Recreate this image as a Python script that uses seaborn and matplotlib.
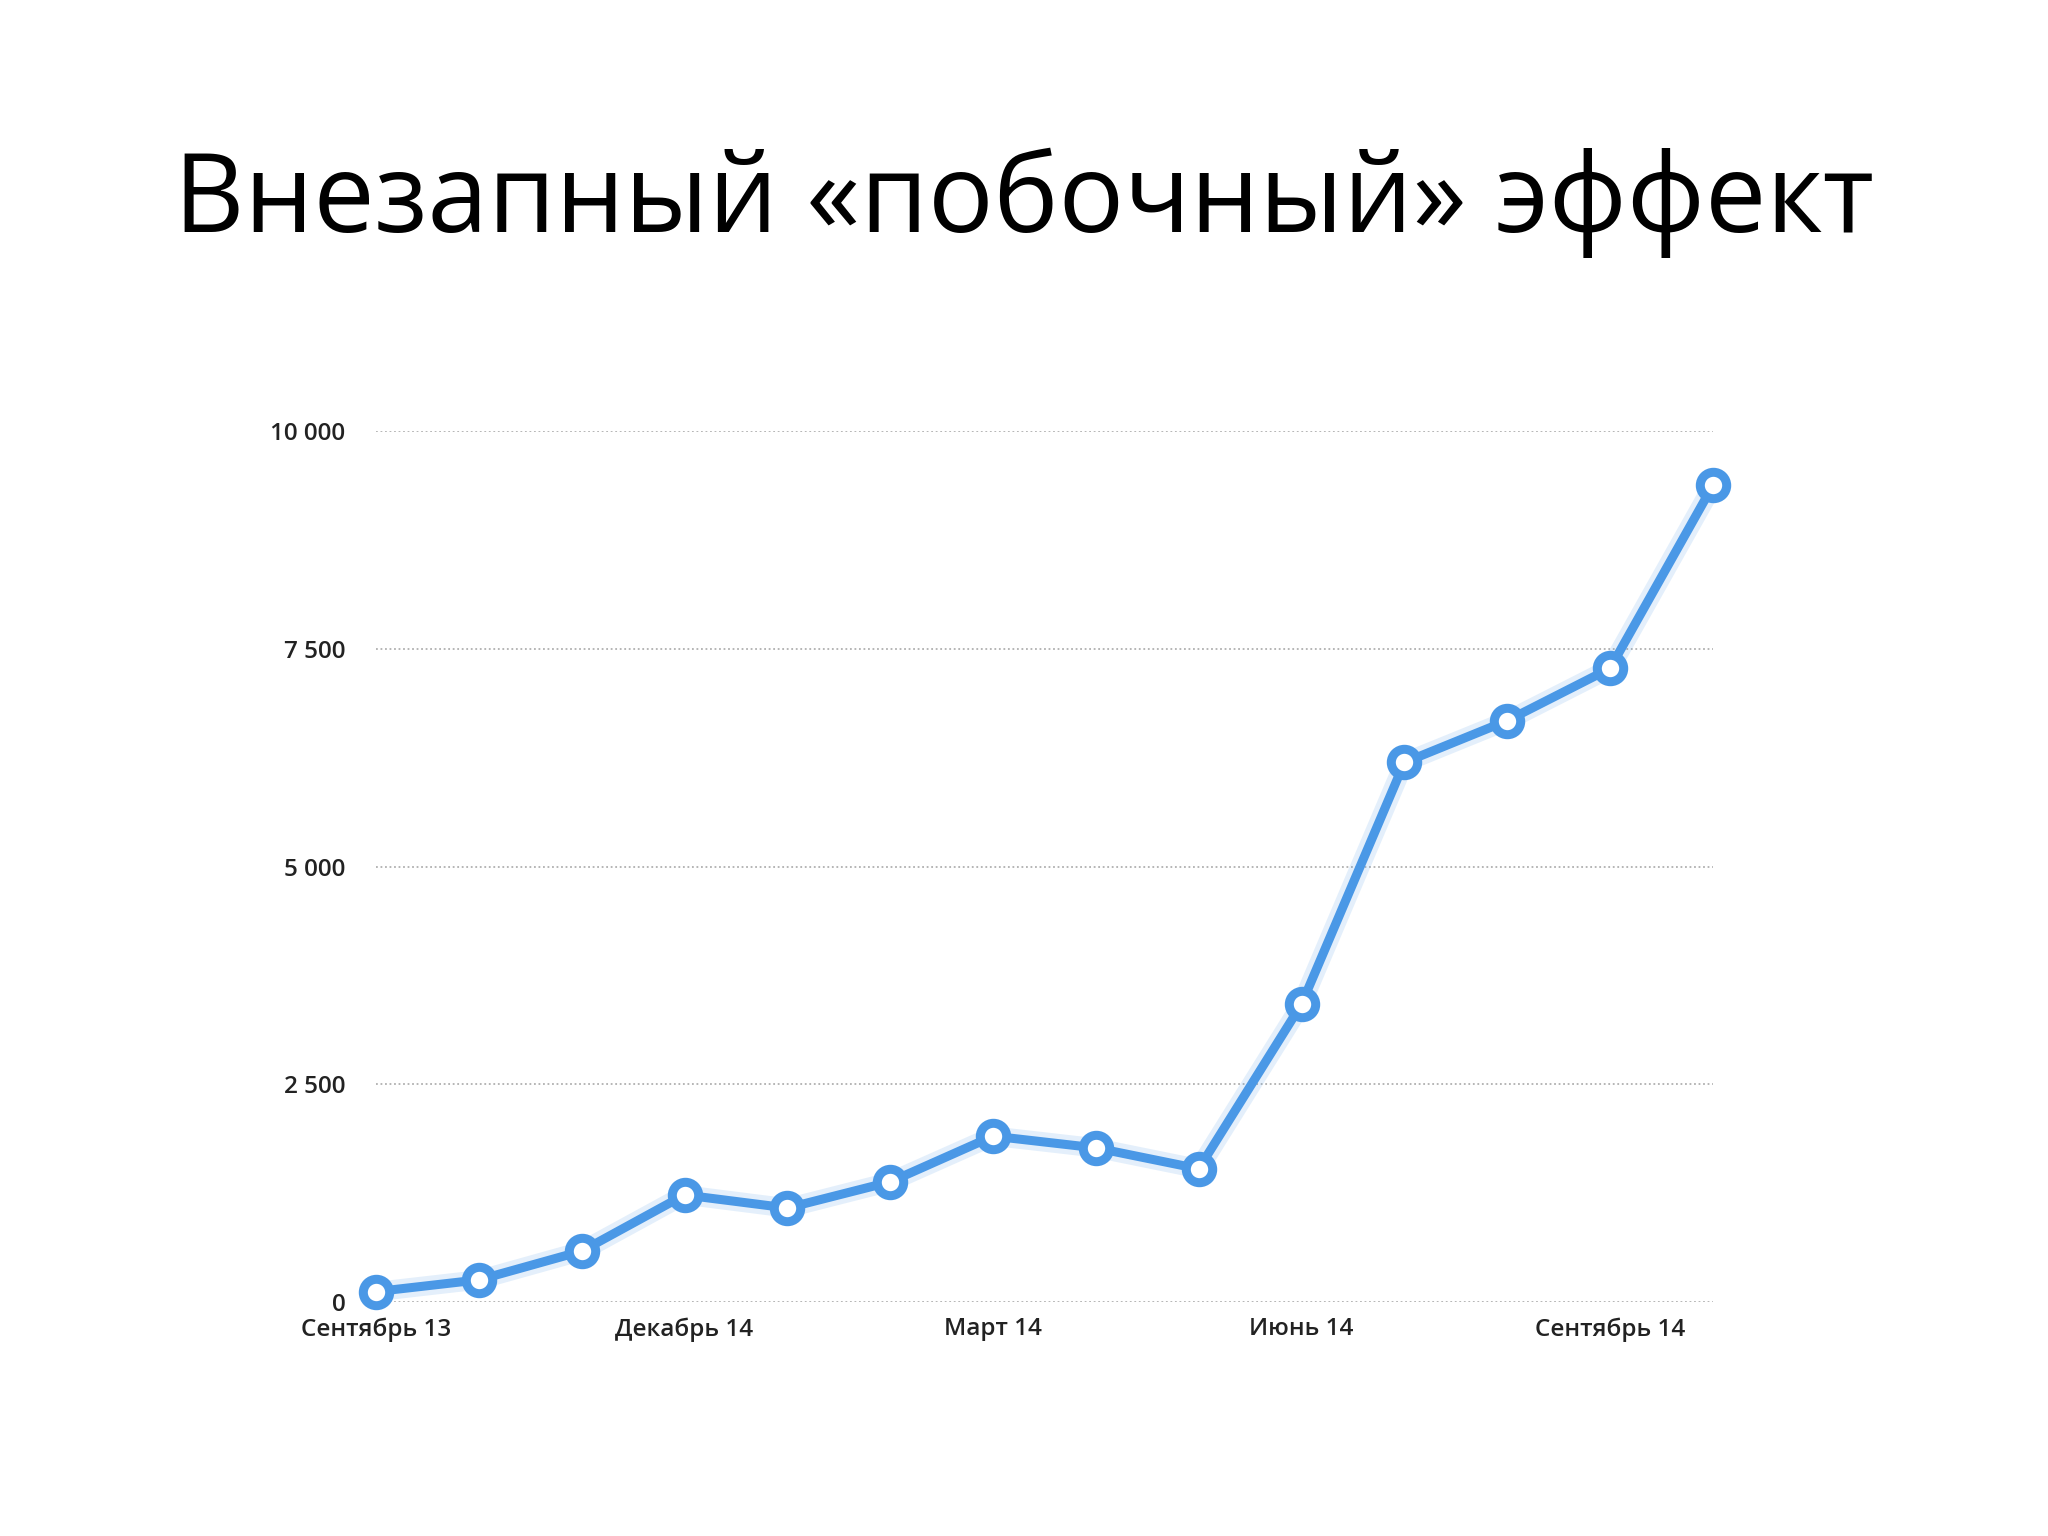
import numpy as np
import pandas as pd
import seaborn as sns
import matplotlib.pyplot as plt

# === DATOS ===
meses = ["Сентябрь 13", "Октябрь 13", "Ноябрь 13", "Декабрь 14", "Январь 14",
         "Февраль 14", "Март 14", "Апрель 14", "Май 14", "Июнь 14",
         "Июль 14", "Август 14", "Сентябрь 14", "Октябрь 14"]
valores = [120, 255, 585, 1230, 1080, 1380, 1905, 1770, 1530, 3420,
           6195, 6675, 7275, 9375]
ticks_y = [0, 2500, 5000, 7500, 10000]
etiquetas_y = ["0", "2 500", "5 000", "7 500", "10 000"]
ticks_x = [0, 3, 6, 9, 12]
titulo = "Внезапный «побочный» эффект"

df = pd.DataFrame({"pos": np.arange(len(valores)), "valor": valores})

# === FIGURA ===
sns.set_style("white")
plt.rcParams["font.family"] = ["DejaVu Sans"]

fig = plt.figure(figsize=(20.48, 15.36), dpi=100)
ax = fig.add_axes([0.1836, 0.1523, 0.6528, 0.5671])

# halo suave detras de la linea
ax.plot(df["pos"], df["valor"], color="#4a98e6", linewidth=14, alpha=0.15,
        solid_capstyle="round", clip_on=False, zorder=4)

sns.lineplot(data=df, x="pos", y="valor", ax=ax, color="#4a98e6",
             linewidth=6.5, marker="o", markersize=19,
             markerfacecolor="white", markeredgecolor="#4a98e6",
             markeredgewidth=6.5, clip_on=False, zorder=5)

fuente_ticks = dict(fontsize=17.5, color="#222222", fontweight="semibold",
                    family=["Open Sans", "DejaVu Sans"])

ax.set_xlim(0, len(valores) - 1)
ax.set_ylim(0, 10000)
ax.set_yticks(ticks_y)
ax.set_yticklabels(etiquetas_y, **fuente_ticks)
ax.set_xticks(ticks_x)
ax.set_xticklabels([meses[i] for i in ticks_x], **fuente_ticks)
ax.tick_params(axis="both", length=0)
ax.tick_params(axis="y", pad=22)
ax.tick_params(axis="x", pad=11)

for y in ticks_y:
    ax.axhline(y, color="#b0b0b0", linestyle=(0, (1, 1.5)), linewidth=1.3, zorder=1)

for s in ax.spines.values():
    s.set_visible(False)
ax.set_xlabel("")
ax.set_ylabel("")

fig.text(0.5, 0.868, titulo, ha="center", va="center", fontsize=78.5,
         family=["Open Sans", "DejaVu Sans"], color="black")

fig.savefig("out.png", dpi=100, facecolor="white")
